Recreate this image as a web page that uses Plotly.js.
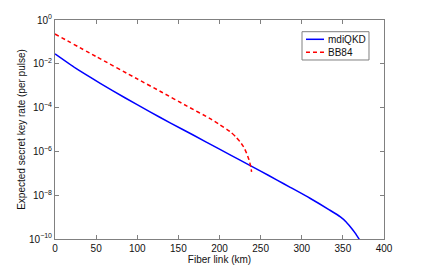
<!DOCTYPE html>
<html>
<head>
<meta charset="utf-8">
<script src="https://cdn.plot.ly/plotly-3.0.1.min.js"></script>
<style>html,body{margin:0;padding:0;background:#fff;}#chart{width:424px;height:269px;}</style>
</head>
<body>
<div id="chart"></div>
<script>
// Fiber link distances (km) and expected secret key rate (per pulse)
const mdiDistance = [0, 25, 55, 85, 115, 140, 168, 200, 225, 250, 270, 286, 310, 334, 347, 354, 359, 365, 370];
const mdiRate = [2.82e-2, 6.31e-3, 1.29e-3, 2.82e-4, 6.61e-5, 2.0e-5, 5.62e-6, 1.26e-6, 3.98e-7, 1.26e-7, 4.9e-8, 2.29e-8, 7.24e-9, 2.09e-9, 1.02e-9, 6.03e-10, 3.63e-10, 1.86e-10, 9.55e-11];
const bbDistance = [0, 50, 100, 130, 160, 188, 200, 213, 220, 225, 230, 233, 236, 238, 239];
const bbRate = [2.29e-1, 2.14e-2, 2.04e-3, 5.01e-4, 1.20e-4, 3.24e-5, 1.70e-5, 7.94e-6, 4.57e-6, 2.75e-6, 1.45e-6, 8.13e-7, 3.98e-7, 2.0e-7, 1.17e-7];
const seriesNames = ['mdiQKD', 'BB84'];
const xTicks = [0, 50, 100, 150, 200, 250, 300, 350, 400];
const yTickVals = [1, 1e-2, 1e-4, 1e-6, 1e-8, 1e-10];
const yTickText = ['10<sup>0</sup>', '10<sup>−2</sup>', '10<sup>−4</sup>', '10<sup>−6</sup>', '10<sup>−8</sup>', '10<sup>−10</sup>'];

const font = {family: 'Liberation Sans, Arial, Helvetica, sans-serif', size: 10, color: '#111'};
const axisCommon = {
  showline: true, mirror: 'ticks', linecolor: '#808080', linewidth: 1,
  ticks: 'inside', ticklen: 4, tickcolor: '#808080', showgrid: false, zeroline: false,
  tickfont: font
};
const blueLine = {color: '#0000ff', width: 1.5};
const redLine = {color: '#ff0000', width: 1.5, dash: '4px,3px'};

const traces = [
  {x: mdiDistance, y: mdiRate, name: seriesNames[0], mode: 'lines',
   line: Object.assign({shape: 'spline', smoothing: 0.6}, blueLine)},
  {x: bbDistance, y: bbRate, name: seriesNames[1], mode: 'lines',
   line: Object.assign({shape: 'spline', smoothing: 0.5}, redLine)}
];

// compact boxed legend (paper coordinates)
const lg = {x0: 0.7508, x1: 0.9544, y0: 0.8174, y1: 0.9466, s0: 0.7629, s1: 0.8176, t: 0.8237, rows: [0.9119, 0.8525]};
const shapes = [
  {type: 'rect', xref: 'paper', yref: 'paper', x0: lg.x0, x1: lg.x1, y0: lg.y0, y1: lg.y1,
   line: {color: '#808080', width: 1}, fillcolor: '#fff', layer: 'above'},
  {type: 'line', xref: 'paper', yref: 'paper', x0: lg.s0, x1: lg.s1, y0: lg.rows[0], y1: lg.rows[0], line: blueLine, layer: 'above'},
  {type: 'line', xref: 'paper', yref: 'paper', x0: lg.s0, x1: lg.s1, y0: lg.rows[1], y1: lg.rows[1], line: redLine, layer: 'above'}
];
const annotations = seriesNames.map((n, i) => ({
  xref: 'paper', yref: 'paper', x: lg.t, y: lg.rows[i], xanchor: 'left', yanchor: 'middle',
  text: n, showarrow: false, font: font
}));

const layout = {
  width: 424, height: 269,
  margin: {l: 55, r: 40, t: 20, b: 30},
  paper_bgcolor: '#fff', plot_bgcolor: '#fff',
  font: font,
  showlegend: false,
  shapes: shapes,
  annotations: annotations,
  xaxis: Object.assign({}, axisCommon, {range: [0, 400], tickvals: xTicks, ticktext: xTicks.map(String),
          title: {text: 'Fiber link (km)', font: font, standoff: 0}}),
  yaxis: Object.assign({}, axisCommon, {type: 'log', range: [-10, 0], tickvals: yTickVals, ticktext: yTickText,
          title: {text: 'Expected secret key rate (per pulse)', font: font, standoff: 1}})
};

Plotly.newPlot('chart', traces, layout, {displayModeBar: false, staticPlot: true});
</script>
</body>
</html>
